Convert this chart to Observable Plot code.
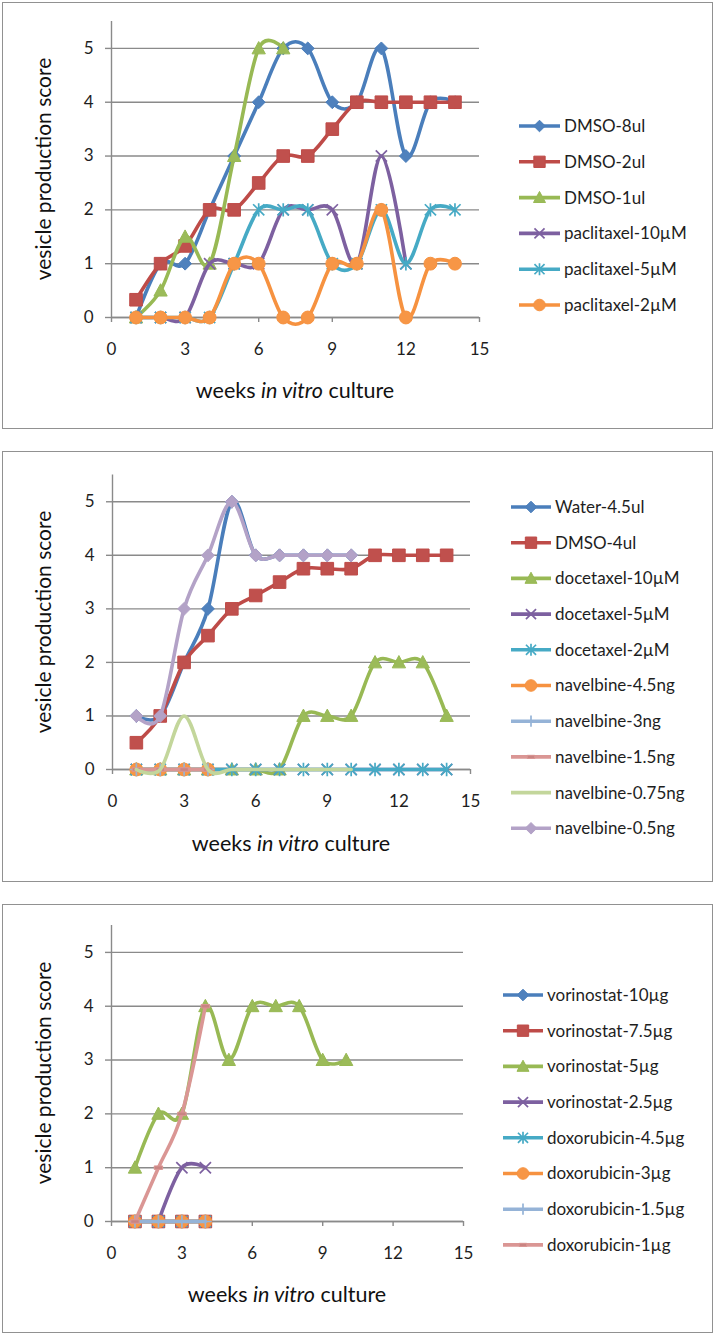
<!DOCTYPE html>
<html><head><meta charset="utf-8">
<script src="https://cdn.jsdelivr.net/npm/d3@7"></script>
<script src="https://cdn.jsdelivr.net/npm/@observablehq/plot@0.6"></script>
<style>
body{margin:0;background:#fff;font-family:Lato,"Open Sans",sans-serif;}
#page{position:relative;width:716px;height:1334px;overflow:hidden;background:#fff;}
.box{position:absolute;left:2px;width:711px;border:1.6px solid #919191;box-sizing:border-box;}
.plot{position:absolute;left:0;}
.ylab{position:absolute;font-size:21px;color:#111;white-space:nowrap;transform:translate(-50%,-50%) rotate(-90deg);}
.xlab{position:absolute;font-size:21.5px;color:#111;white-space:nowrap;transform:translate(-50%,-50%);}
</style></head>
<body><div id="page"></div>
<script>
// ---------- data ----------
const weeks = [1,2,3,4,5,6,7,8,9,10,11,12,13,14];
const xTicks = [0,3,6,9,12,15];
const yTicks = [0,1,2,3,4,5];
const yAxisTitle = "vesicle production score";

// Panel 1
const panel1Names = ["DMSO-8ul","DMSO-2ul","DMSO-1ul","paclitaxel-10µM","paclitaxel-5µM","paclitaxel-2µM"];
const p1_dmso8ul      = [0,1,1,2,3,4,5,5,4,4,5,3,4,4];
const p1_dmso2ul      = [0.33,1,1.33,2,2,2.5,3,3,3.5,4,4,4,4,4];
const p1_dmso1ul      = [0,0.5,1.5,1,3,5,5];
const p1_paclitaxel10 = [0,0,0,1,1,1,2,2,2,1,3,1];
const p1_paclitaxel5  = [0,0,0,0,1,2,2,2,1,1,2,1,2,2];
const p1_paclitaxel2  = [0,0,0,0,1,1,0,0,1,1,2,0,1,1];

// Panel 2
const panel2Names = ["Water-4.5ul","DMSO-4ul","docetaxel-10µM","docetaxel-5µM","docetaxel-2µM","navelbine-4.5ng","navelbine-3ng","navelbine-1.5ng","navelbine-0.75ng","navelbine-0.5ng"];
const p2_water45     = [1,1,2,3,5,4,4,4,4,4];
const p2_dmso4ul     = [0.5,1,2,2.5,3,3.25,3.5,3.75,3.75,3.75,4,4,4,4];
const p2_docetaxel10 = [0,0,0,0,0,0,0,1,1,1,2,2,2,1];
const p2_docetaxel5  = [0,0,0,0,0,0,0,0,0,0,0,0,0,0];
const p2_docetaxel2  = [0,0,0,0,0,0,0,0,0,0,0,0,0,0];
const p2_navelbine45 = [0,0,0,0];
const p2_navelbine3  = [0,0,0,0];
const p2_navelbine15 = [0,0,0,0];
const p2_navelbine075= [0,0,1,0,0,0,0,0,0,0];
const p2_navelbine05 = [1,1,3,4,5,4,4,4,4,4];

// Panel 3
const panel3Names = ["vorinostat-10µg","vorinostat-7.5µg","vorinostat-5µg","vorinostat-2.5µg","doxorubicin-4.5µg","doxorubicin-3µg","doxorubicin-1.5µg","doxorubicin-1µg"];
const p3_vorinostat10  = [0,0,0,0];
const p3_vorinostat75  = [0,0,0,0];
const p3_vorinostat5   = [1,2,2,4,3,4,4,4,3,3];
const p3_vorinostat25  = [null,0,1,1];
const p3_doxorubicin45 = [0,0,0,0];
const p3_doxorubicin3  = [0,0,0,0];
const p3_doxorubicin15 = [0,0,0,0];
const p3_doxorubicin1  = [0,1,2,4];

// ---------- styles ----------
function rOf(size){return Math.sqrt(size/Math.PI);}
const sym = {
  diamond:{draw(c,s){const r=rOf(s)*0.92;c.moveTo(0,-r);c.lineTo(r,0);c.lineTo(0,r);c.lineTo(-r,0);c.closePath();}},
  square:{draw(c,s){const h=rOf(s)*0.9;c.rect(-h,-h,2*h,2*h);}},
  triangle:{draw(c,s){const r=rOf(s);c.moveTo(0,-r*0.98);c.lineTo(r*0.95,r*0.78);c.lineTo(-r*0.95,r*0.78);c.closePath();}},
  times:{draw(c,s){const h=rOf(s)*0.8;c.moveTo(-h,-h);c.lineTo(h,h);c.moveTo(h,-h);c.lineTo(-h,h);}},
  asterisk:{draw(c,s){const h=rOf(s)*0.8;c.moveTo(-h,-h);c.lineTo(h,h);c.moveTo(h,-h);c.lineTo(-h,h);c.moveTo(0,-h*1.2);c.lineTo(0,h*1.2);}},
  circle:{draw(c,s){const r=rOf(s)*0.92;c.moveTo(r,0);c.arc(0,0,r,0,2*Math.PI);}},
  plus:{draw(c,s){const h=rOf(s)*0.9;c.moveTo(-h,0);c.lineTo(h,0);c.moveTo(0,-h);c.lineTo(0,h);}},
  dash:{draw(c,s){const r=rOf(s);c.rect(-r*0.6,-r*0.25,r*1.2,r*0.5);}}
};
const filledSym = new Set(["diamond","square","triangle","circle","dash"]);
const palette = [
  {line:"#4A7EBB", fill:"#4F81BD", m:"diamond"},
  {line:"#BE4B48", fill:"#C0504D", m:"square"},
  {line:"#98B954", fill:"#9BBB59", m:"triangle"},
  {line:"#7D60A0", fill:"#8064A2", m:"times"},
  {line:"#46AAC5", fill:"#4BACC6", m:"asterisk"},
  {line:"#F69240", fill:"#F79646", m:"circle"},
  {line:"#95B3D7", fill:"#95B3D7", m:"plus"},
  {line:"#DA9694", fill:"#C98482", m:"dash"},
  {line:"#C3D69B", fill:"#C3D69B", m:null},
  {line:"#B3A2C7", fill:"#B3A2C7", m:"diamond"}
];
const LINE_W = 3.6, MARKER_R = 7, LEG_R = 6.3, GRID = "#8a8a8a", TEXT = "#1e1e1e";

const panels = [
  {names:panel1Names, series:[p1_dmso8ul,p1_dmso2ul,p1_dmso1ul,p1_paclitaxel10,p1_paclitaxel5,p1_paclitaxel2],
   top:0, mt:21, mb:63, ml:111, mr:237, box:[2,427],
   ylab:[42,169], xlab:[295,390], leg:{y0:126, step:35.8, x0:519, x1:560, tx:564}},
  {names:panel2Names, series:[p2_water45,p2_dmso4ul,p2_docetaxel10,p2_docetaxel5,p2_docetaxel2,p2_navelbine45,p2_navelbine3,p2_navelbine15,p2_navelbine075,p2_navelbine05],
   top:451, mt:23.5, mb:62, ml:112, mr:246, box:[451,431],
   ylab:[42,622], xlab:[291,843], leg:{y0:507, step:35.7, x0:511, x1:551, tx:555}},
  {names:panel3Names, series:[p3_vorinostat10,p3_vorinostat75,p3_vorinostat5,p3_vorinostat25,p3_doxorubicin45,p3_doxorubicin3,p3_doxorubicin15,p3_doxorubicin1],
   top:904, mt:21, mb:63, ml:111, mr:253, box:[904,429],
   ylab:[42,1073], xlab:[287,1294], leg:{y0:995, step:35.7, x0:503, x1:543, tx:547}}
];

const page = document.getElementById("page");

function seriesMarks(values, i){
  const st = palette[i];
  const data = values.map((v,k)=>({week:weeks[k], score:v})).filter(d=>d.score!=null);
  const marks = [Plot.line(data,{x:"week", y:"score", stroke:st.line, strokeWidth:LINE_W, curve:"cardinal", strokeLinejoin:"round", strokeLinecap:"round"})];
  if (st.m){
    const filled = filledSym.has(st.m);
    marks.push(Plot.dot(data,{x:"week", y:"score", symbol:sym[st.m], r:MARKER_R,
      fill: filled ? st.fill : "none", stroke: st.line, strokeWidth: filled ? 1 : 1.7}));
  }
  return marks;
}

panels.forEach(p=>{
  const box = document.createElement("div");
  box.className="box"; box.style.top=p.box[0]+"px"; box.style.height=p.box[1]+"px";
  page.appendChild(box);

  const chart = Plot.plot({
    width:716, height:380,
    marginTop:p.mt, marginBottom:p.mb, marginLeft:p.ml, marginRight:p.mr,
    x:{domain:[0,15]}, y:{domain:[0,5.5]},
    style:{fontFamily:"Lato, 'Open Sans', sans-serif", fontSize:"17px", color:TEXT, background:"transparent"},
    marks:[
      Plot.gridY(yTicks,{stroke:GRID, strokeOpacity:1, strokeWidth:1.4}),
      Plot.axisY(yTicks,{tickSize:6, tickPadding:12, stroke:GRID, strokeWidth:1.4, label:null, tickFormat:d=>String(d)}),
      Plot.axisX(xTicks,{tickSize:5, tickPadding:20, stroke:GRID, strokeWidth:1.4, label:null, tickFormat:d=>String(d)}),
      Plot.ruleX([0],{stroke:GRID, strokeWidth:1.4}),
      Plot.ruleY([0],{stroke:GRID, strokeWidth:1.4}),
      ...p.series.flatMap((s,i)=>seriesMarks(s,i))
    ]
  });
  chart.classList.add("plot");
  chart.style.top = p.top+"px";
  page.appendChild(chart);

  const yl = document.createElement("div");
  yl.className="ylab"; yl.textContent=yAxisTitle;
  yl.style.left=p.ylab[0]+"px"; yl.style.top=p.ylab[1]+"px";
  page.appendChild(yl);
  const xl = document.createElement("div");
  xl.className="xlab"; xl.innerHTML="weeks <i>in vitro</i> culture";
  xl.style.left=p.xlab[0]+"px"; xl.style.top=p.xlab[1]+"px";
  page.appendChild(xl);
});

// ---------- legends ----------
const leg = d3.select(page).append("svg")
  .attr("width",716).attr("height",1334)
  .style("position","absolute").style("left","0").style("top","0").style("pointer-events","none");
panels.forEach(p=>{
  p.names.forEach((name,i)=>{
    const st = palette[i];
    const y = p.leg.y0 + i*p.leg.step;
    const g = leg.append("g").attr("transform",`translate(0,${y})`);
    g.append("line").attr("x1",p.leg.x0).attr("x2",p.leg.x1).attr("y1",0).attr("y2",0)
      .attr("stroke",st.line).attr("stroke-width",LINE_W);
    if (st.m){
      const filled = filledSym.has(st.m);
      g.append("path").attr("transform",`translate(${(p.leg.x0+p.leg.x1)/2},0)`)
        .attr("d", d3.symbol().type(sym[st.m]).size(Math.PI*LEG_R*LEG_R)())
        .attr("fill", filled ? st.fill : "none").attr("stroke", st.line)
        .attr("stroke-width", filled ? 1 : 1.7);
    }
    g.append("text").attr("x",p.leg.tx).attr("y",0).attr("dy","0.35em")
      .attr("font-family","Lato, 'Open Sans', sans-serif").attr("font-size",17).attr("fill",TEXT)
      .text(name);
  });
});
</script>
</body></html>
